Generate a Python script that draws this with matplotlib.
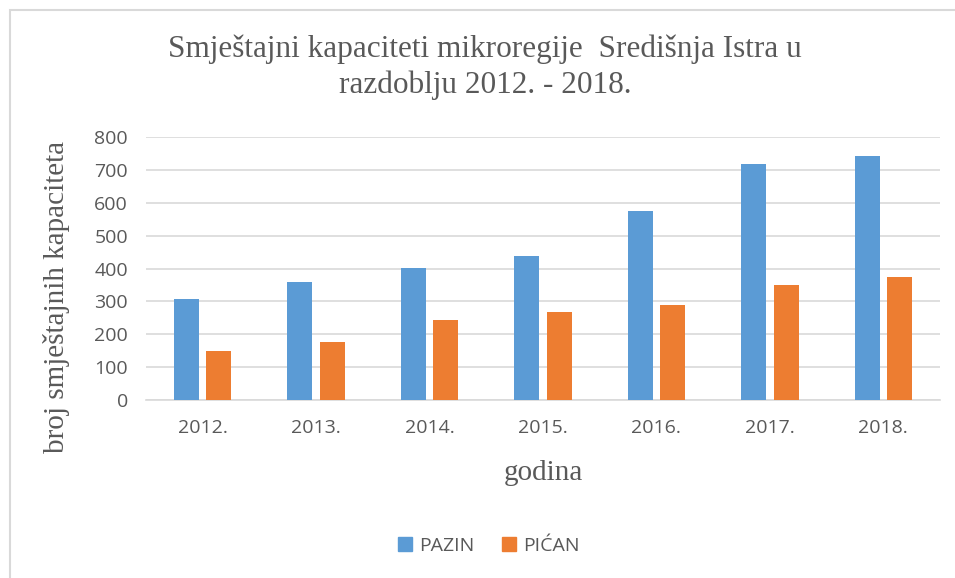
import matplotlib
matplotlib.use('Agg')
import matplotlib.pyplot as plt
from matplotlib.patches import Rectangle, Patch
import numpy as np

# podaci ocitani s grafa
godine = ['2012.', '2013.', '2014.', '2015.', '2016.', '2017.', '2018.']
pazin = [308, 358, 402, 437, 574, 718, 742]
pican = [149, 176, 242, 269, 289, 351, 375]
serije = ['PAZIN', 'PIĆAN']
boje = ['#5B9BD5', '#ED7D31']

siva = '#595959'
serif = ['Liberation Serif', 'DejaVu Serif']
sans = ['Open Sans', 'DejaVu Sans']

fig = plt.figure(figsize=(9.55, 5.78), dpi=100)
ax = fig.add_axes([146/955, 1-400/578, (940-146)/955, (400-137)/578])

x = np.arange(len(godine))
sirina = 0.22
ax.bar(x - 0.143, pazin, width=sirina, color=boje[0], zorder=3)
ax.bar(x + 0.143, pican, width=sirina, color=boje[1], zorder=3)

ax.set_xlim(-0.5, len(godine) - 0.5)
ax.set_ylim(0, 800)
ax.set_yticks(range(0, 801, 100))
ax.set_xticks(x)
ax.set_xticklabels(godine)
ax.grid(axis='y', color='#D9D9D9', linewidth=1.2, zorder=0)
for s in ['top', 'right', 'left']:
    ax.spines[s].set_visible(False)
ax.spines['bottom'].set_color('#D9D9D9')
ax.spines['bottom'].set_linewidth(1.2)
ax.tick_params(axis='both', length=0, colors=siva, labelsize=14)
ax.tick_params(axis='y', pad=13)
ax.tick_params(axis='x', pad=14)
for t in ax.get_xticklabels() + ax.get_yticklabels():
    t.set_family(sans)

# naslov i osi
fig.text(0.508, 1-67/578, 'Smještajni kapaciteti mikroregije  Središnja Istra u\nrazdoblju 2012. - 2018.',
         ha='center', va='center', fontsize=22.5, color=siva, family=serif, linespacing=1.3)
fig.text(57/955, 1-297/578, 'broj smještajnih kapaciteta', rotation=90,
         ha='center', va='center', fontsize=21, color=siva, family=serif)
fig.text(543/955, 1-473/578, 'godina', ha='center', va='center',
         fontsize=21, color=siva, family=serif)

# legenda
ruke = [Patch(color=boje[i], label=serije[i]) for i in range(2)]
leg = fig.legend(handles=ruke, loc='center', bbox_to_anchor=(0.512, 1-546/578), ncol=2,
                 frameon=False, handlelength=0.7, handleheight=0.7, handletextpad=0.4,
                 columnspacing=1.4, prop={'family': sans, 'size': 14})
for t in leg.get_texts():
    t.set_color(siva)

# okvir grafa
fig.patches.append(Rectangle((10/955, -0.2), 1.2, 0.2 + 1-10/578, transform=fig.transFigure,
                             fill=False, edgecolor='#D9D9D9', linewidth=1.5))

plt.savefig('out.png', dpi=100)
